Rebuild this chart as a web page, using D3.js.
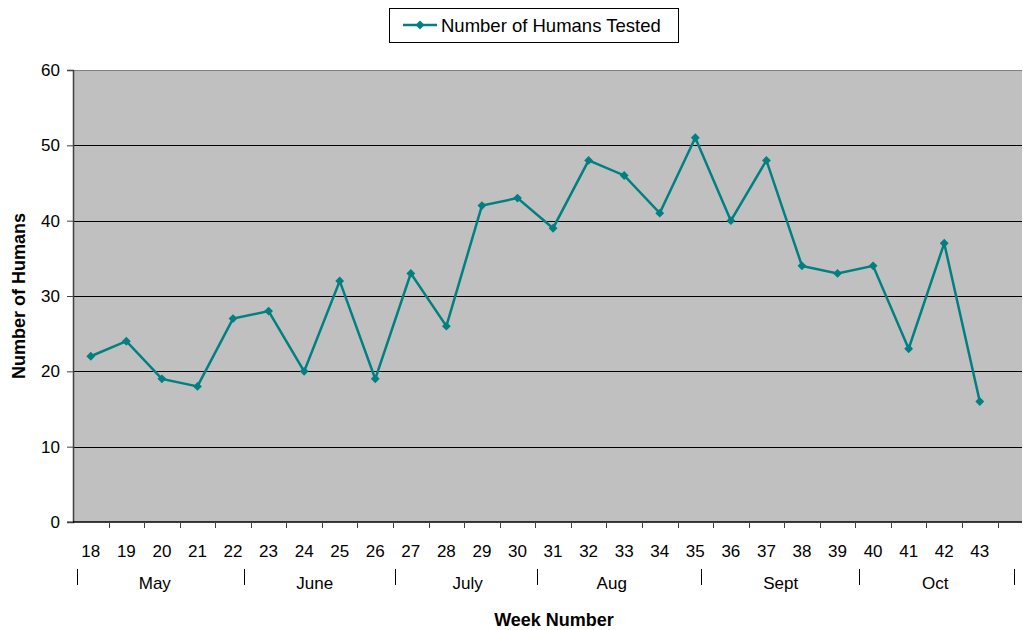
<!DOCTYPE html>
<html lang="en-US">
<head>
<meta charset="UTF-8">
<title>Humans Tested</title>
<style>
body {margin: 0; background: #fff;}
text {font-family: "Liberation Sans", Arial, sans-serif; fill: #000;}
</style>
</head>
<body>
<div id="viz"></div>
<script src="https://d3js.org/d3.v7.min.js"></script>
<script>
// data
var weeks = [18,19,20,21,22,23,24,25,26,27,28,29,30,31,32,33,34,35,36,37,38,39,40,41,42,43];
var humans = [22,24,19,18,27,28,20,32,19,33,26,42,43,39,48,46,41,51,40,48,34,33,34,23,37,16];
var yTicks = [0,10,20,30,40,50,60];
var months = ["May","June","July","Aug","Sept","Oct"];
// month boundaries and label centres in week units (as drawn)
var monthEdges = [17.6, 22.3, 26.55, 30.55, 35.15, 39.6, 43.95];
var monthCentres = [19.8, 24.3, 28.6, 32.65, 37.4, 41.75];

var width = 1023, height = 630;
var plotL = 73, plotR = 1022, plotT = 70, plotB = 522;

var svg = d3.select("#viz").append("svg")
    .attr("width", width)
    .attr("height", height);

// one extra empty slot after week 43
var slots = weeks.concat([44]);
var x = d3.scaleBand()
    .domain(slots)
    .range([plotL, plotL + 35.56 * slots.length]);
var xw = d3.scaleLinear().domain([18, 43]).range([x(18) + x.bandwidth() / 2, x(43) + x.bandwidth() / 2]);
var y = d3.scaleLinear().domain([0, 60]).range([plotB, plotT]);

// plot background
svg.append("rect")
    .attr("x", plotL).attr("y", plotT)
    .attr("width", plotR - plotL).attr("height", plotB - plotT)
    .attr("fill", "#c0c0c0");

// grid
svg.append("g").selectAll("line")
    .data(yTicks.filter(function(d) { return d > 0; }))
    .enter().append("line")
    .attr("x1", plotL).attr("x2", plotR)
    .attr("y1", function(d) { return Math.round(y(d)) + 0.5; })
    .attr("y2", function(d) { return Math.round(y(d)) + 0.5; })
    .attr("stroke", function(d) { return d == 60 ? "#808080" : "#000"; })
    .attr("stroke-width", 1);

// y axis
var yAxis = svg.append("g")
    .attr("transform", "translate(" + plotL + ",0)")
    .call(d3.axisLeft(y).tickValues(yTicks).tickSize(6).tickPadding(7));
yAxis.select(".domain").attr("stroke", "#404040").attr("stroke-width", 1.5);
yAxis.selectAll(".tick line").attr("stroke", "#404040");
yAxis.selectAll("text").style("font-size", "17px").style("font-family", "Liberation Sans, Arial, sans-serif");

// x axis
svg.append("line")
    .attr("x1", plotL).attr("x2", plotR)
    .attr("y1", plotB).attr("y2", plotB)
    .attr("stroke", "#000").attr("stroke-width", 1.5);
svg.append("g").selectAll("line")
    .data(slots.slice(1))
    .enter().append("line")
    .attr("x1", function(d) { return Math.round(x(d)) + 0.5; })
    .attr("x2", function(d) { return Math.round(x(d)) + 0.5; })
    .attr("y1", plotB).attr("y2", plotB + 6)
    .attr("stroke", "#404040");
svg.append("line")
    .attr("x1", plotL - 6).attr("x2", plotL)
    .attr("y1", plotB).attr("y2", plotB)
    .attr("stroke", "#404040");

svg.append("g").selectAll("text")
    .data(weeks)
    .enter().append("text")
    .attr("x", function(d) { return x(d) + x.bandwidth() / 2; })
    .attr("y", 557)
    .attr("text-anchor", "middle")
    .style("font-size", "17px")
    .text(function(d) { return d; });

// month row
svg.append("g").selectAll("line")
    .data(monthEdges)
    .enter().append("line")
    .attr("x1", function(d) { return Math.round(xw(d)) + 0.5; })
    .attr("x2", function(d) { return Math.round(xw(d)) + 0.5; })
    .attr("y1", 569).attr("y2", 585)
    .attr("stroke", "#000");
svg.append("g").selectAll("text")
    .data(months)
    .enter().append("text")
    .attr("x", function(d, i) { return xw(monthCentres[i]); })
    .attr("y", 589)
    .attr("text-anchor", "middle")
    .style("font-size", "17px")
    .text(function(d) { return d; });

// axis titles
svg.append("text")
    .attr("x", 554).attr("y", 626)
    .attr("text-anchor", "middle")
    .style("font-size", "18px").style("font-weight", "bold")
    .text("Week Number");
svg.append("text")
    .attr("transform", "translate(25,296) rotate(-90)")
    .attr("text-anchor", "middle")
    .style("font-size", "18px").style("font-weight", "bold")
    .text("Number of Humans");

// series
var line = d3.line()
    .x(function(d, i) { return x(weeks[i]) + x.bandwidth() / 2; })
    .y(function(d) { return y(d); });
svg.append("path")
    .datum(humans)
    .attr("d", line)
    .attr("fill", "none")
    .attr("stroke", "#008080")
    .attr("stroke-width", 2.5)
    .attr("stroke-linejoin", "miter");

var diamond = d3.symbol().type(d3.symbolDiamond2).size(50);
svg.append("g").selectAll("path")
    .data(humans)
    .enter().append("path")
    .attr("d", diamond)
    .attr("transform", function(d, i) {
        return "translate(" + (x(weeks[i]) + x.bandwidth() / 2) + "," + y(d) + ")";
    })
    .attr("fill", "#008080");

// legend
var lg = svg.append("g");
lg.append("rect")
    .attr("x", 389.5).attr("y", 8.5)
    .attr("width", 289).attr("height", 34)
    .attr("fill", "#fff").attr("stroke", "#000");
lg.append("line")
    .attr("x1", 403).attr("x2", 437).attr("y1", 25).attr("y2", 25)
    .attr("stroke", "#008080").attr("stroke-width", 2.5);
lg.append("path")
    .attr("d", diamond)
    .attr("transform", "translate(420,25)")
    .attr("fill", "#008080");
lg.append("text")
    .attr("x", 441).attr("y", 32)
    .style("font-size", "18.5px")
    .text("Number of Humans Tested");
</script>
</body>
</html>
